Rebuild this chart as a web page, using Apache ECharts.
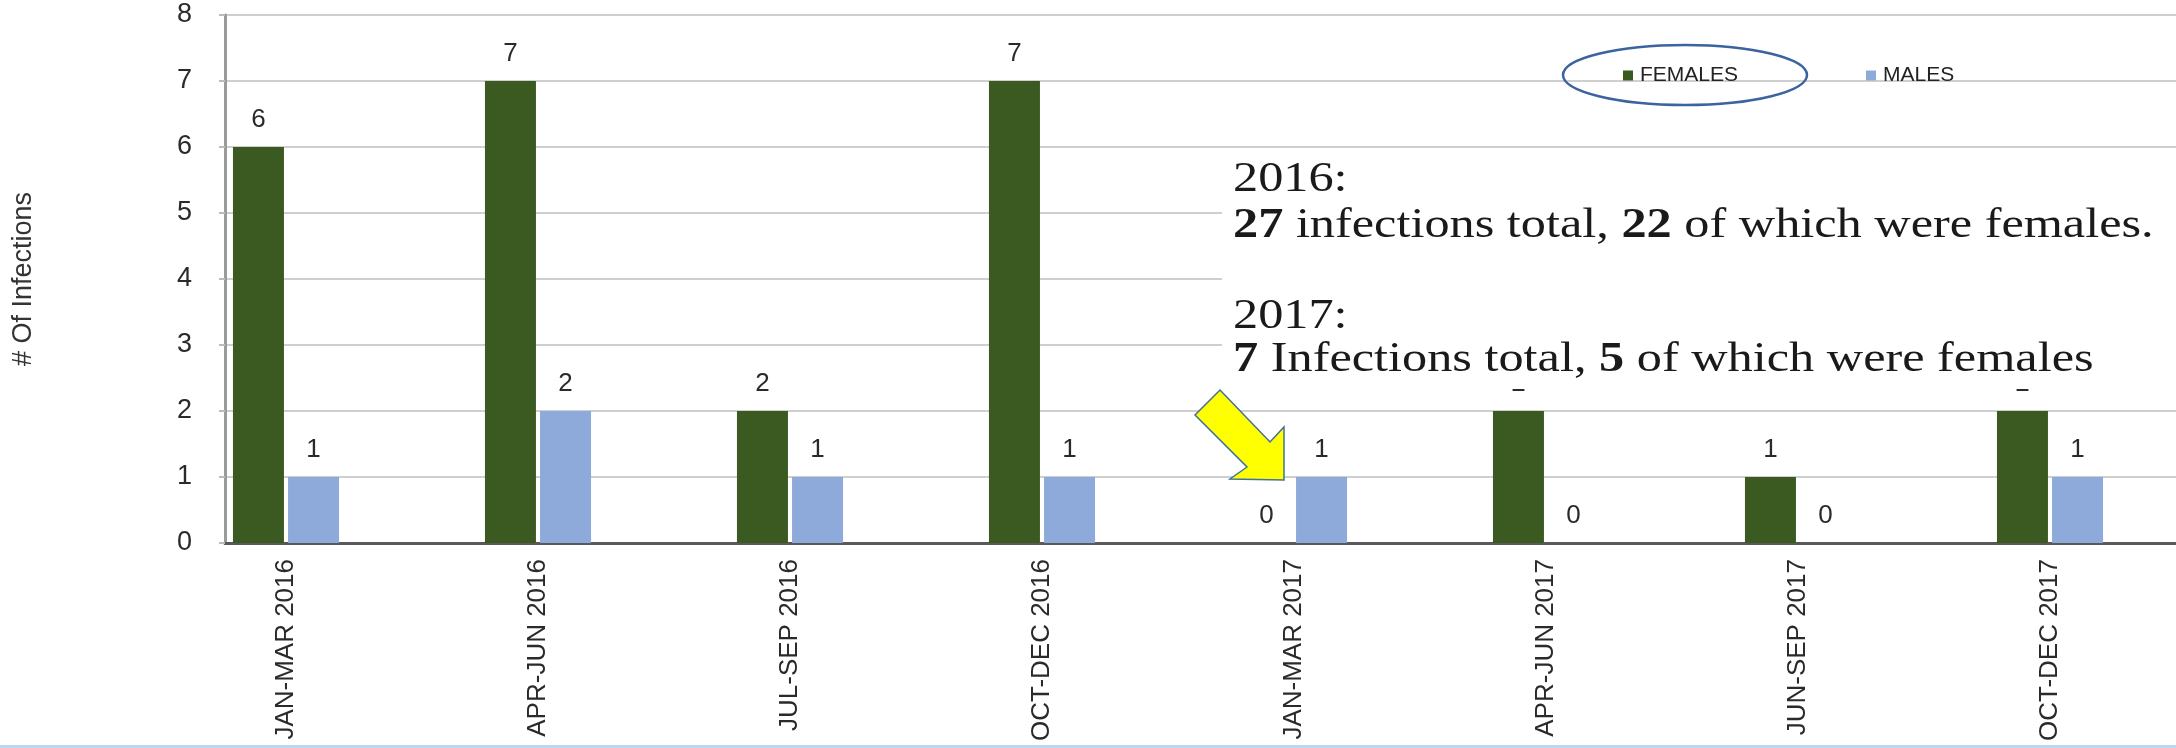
<!DOCTYPE html>
<html>
<head>
<meta charset="utf-8">
<script src="https://cdn.jsdelivr.net/npm/echarts@6/dist/echarts.min.js"></script>
<style>
  html, body { margin: 0; padding: 0; background: #ffffff; }
  #chart { width: 2176px; height: 748px; }
</style>
</head>
<body>
<div id="chart"></div>
<script>
const categories = ["JAN-MAR 2016", "APR-JUN 2016", "JUL-SEP 2016", "OCT-DEC 2016",
                    "JAN-MAR 2017", "APR-JUN 2017", "JUN-SEP 2017", "OCT-DEC 2017"];
const females = [6, 7, 2, 7, 0, 2, 1, 2];
const males   = [1, 2, 1, 1, 1, 0, 0, 1];
const yTicks  = { min: 0, max: 8, interval: 1 };
const seriesNames = ["FEMALES", "MALES"];
const yAxisName = "# Of Infections";
const noteLines = [
  "2016:",
  "{b|27} infections total, {b|22} of which were females.",
  "2017:",
  "{b|7} Infections total, {b|5} of which were females"
];

const SANS = "'Liberation Sans', Arial, sans-serif";
const SERIF = "'Liberation Serif', 'Times New Roman', serif";
const GREEN = "#3A5A22";
const BLUE = "#8EAADB";

const chart = echarts.init(document.getElementById('chart'), null, { renderer: 'canvas' });

const noteGraphics = noteLines.map((t, i) => ({
  type: 'text',
  x: 1233,
  y: [180, 226, 317, 360][i],
  scaleX: 1.17,
  z: 102,
  style: {
    text: t,
    fill: '#1a1a1a',
    fontSize: 43,
    fontFamily: SERIF,
    verticalAlign: 'middle',
    align: 'left',
    rich: { b: { fontWeight: 'bold', fontSize: 43, fontFamily: SERIF, fill: '#1a1a1a' } }
  }
}));

const option = {
  backgroundColor: '#ffffff',
  animation: false,
  textStyle: { fontFamily: SANS },
  legend: {
    data: seriesNames,
    left: 1618,
    top: 60,
    itemWidth: 10,
    itemHeight: 10,
    itemGap: 128,
    icon: 'rect',
    textStyle: { fontSize: 21, color: '#222', fontFamily: SANS, padding: [0, 0, 0, 2] }
  },
  grid: [
    { left: 225, right: -64, top: 15, bottom: 205 },
    { left: 160, right: -64, top: 15, bottom: 205 }
  ],
  xAxis: [
    {
      gridIndex: 0, type: 'value', min: 0, max: 1,
      axisLine: { show: true, lineStyle: { color: '#595959', width: 3 } },
      axisTick: { show: false }, axisLabel: { show: false }, splitLine: { show: false }
    },
    {
      gridIndex: 1, type: 'category', data: categories,
      axisLine: { show: false }, axisTick: { show: false },
      axisLabel: { rotate: 90, fontSize: 26, margin: 16, color: '#2a2a2a', fontFamily: SANS, interval: 0 }
    }
  ],
  yAxis: [
    {
      gridIndex: 0, type: 'value', min: yTicks.min, max: yTicks.max, interval: yTicks.interval,
      name: yAxisName, nameLocation: 'middle', nameRotate: 90, nameGap: 188,
      nameTextStyle: { fontSize: 27, color: '#333', fontFamily: SANS },
      axisLine: { show: true, lineStyle: { color: '#9a9a9a', width: 3 } },
      axisTick: { show: true, length: 6, lineStyle: { color: '#bbbbbb', width: 2 } },
      axisLabel: { fontSize: 27, color: '#2a2a2a', margin: 33, fontFamily: SANS },
      splitLine: { show: true, lineStyle: { color: '#cfcfcf', width: 2 } }
    },
    {
      gridIndex: 1, type: 'value', min: yTicks.min, max: yTicks.max, interval: yTicks.interval,
      show: false, splitLine: { show: false }
    }
  ],
  series: [
    {
      name: seriesNames[0], type: 'bar', data: females,
      xAxisIndex: 1, yAxisIndex: 1,
      barWidth: 51, barGap: '8%',
      itemStyle: { color: GREEN },
      label: { show: true, position: 'top', distance: 14, fontSize: 26, color: '#2a2a2a', fontFamily: SANS }
    },
    {
      name: seriesNames[1], type: 'bar', data: males,
      xAxisIndex: 1, yAxisIndex: 1,
      barWidth: 51, barGap: '8%',
      itemStyle: { color: BLUE },
      label: { show: true, position: 'top', distance: 14, fontSize: 26, color: '#2a2a2a', fontFamily: SANS }
    }
  ],
  graphic: [
    {
      type: 'rect', z: 100,
      shape: { x: 1222, y: 151, width: 960, height: 238 },
      style: { fill: '#ffffff' }
    },
    ...noteGraphics,
    {
      type: 'ellipse', z: 103,
      shape: { cx: 1685, cy: 75, rx: 122, ry: 30 },
      style: { fill: 'none', stroke: '#3A63A0', lineWidth: 2.5 }
    },
    {
      type: 'polygon', z: 103,
      shape: { points: [[1220, 390], [1270, 442], [1284, 427], [1284, 480], [1230, 479], [1247, 467], [1195, 415]] },
      style: { fill: '#FFFF00', stroke: '#41719C', lineWidth: 1.5 }
    },
    {
      type: 'rect', z: 100,
      shape: { x: 0, y: 745, width: 2176, height: 3 },
      style: { fill: '#BDD7EE' }
    }
  ]
};

chart.setOption(option);
</script>
</body>
</html>
